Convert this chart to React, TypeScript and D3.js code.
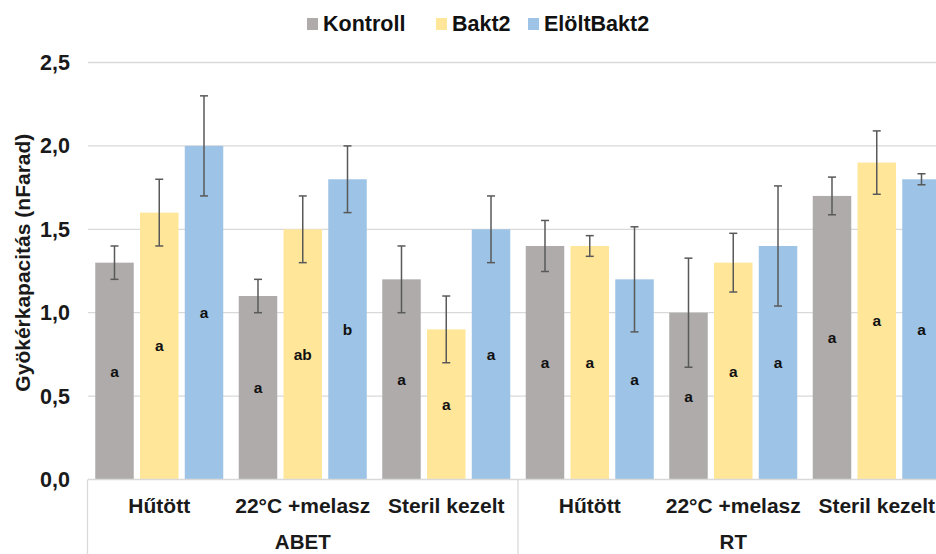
import React, { useEffect, useRef } from "react";
import * as d3 from "d3";

const categories = ["Hűtött", "22°C +melasz", "Steril kezelt", "Hűtött", "22°C +melasz", "Steril kezelt"];
const groups = ["ABET", "RT"];
const seriesNames = ["Kontroll", "Bakt2", "ElöltBakt2"];
const seriesColors = ["#AFABAB", "#FFE699", "#9DC3E6"];

const kontroll = [1.3, 1.1, 1.2, 1.4, 1.0, 1.7];
const bakt2 = [1.6, 1.5, 0.9, 1.4, 1.3, 1.9];
const eloltBakt2 = [2.0, 1.8, 1.5, 1.2, 1.4, 1.8];

const kontrollErr = [0.1, 0.1, 0.2, 0.153, 0.327, 0.113];
const bakt2Err = [0.2, 0.2, 0.2, 0.062, 0.176, 0.19];
const eloltBakt2Err = [0.3, 0.2, 0.2, 0.315, 0.36, 0.033];

const kontrollLetters = ["a", "a", "a", "a", "a", "a"];
const bakt2Letters = ["a", "ab", "a", "a", "a", "a"];
const eloltBakt2Letters = ["a", "b", "a", "a", "a", "a"];

const yTicks = [0, 0.5, 1.0, 1.5, 2.0, 2.5];
const yTitle = "Gyökérkapacitás (nFarad)";

const W = 936;
const H = 554;
const FONT = "'Liberation Sans', Arial, sans-serif";

export default function App() {
  const ref = useRef<SVGSVGElement>(null);

  useEffect(() => {
    document.body.style.margin = "0";
    const svg = d3.select(ref.current);
    svg.selectAll("*").remove();

    const values = [kontroll, bakt2, eloltBakt2];
    const errs = [kontrollErr, bakt2Err, eloltBakt2Err];
    const letters = [kontrollLetters, bakt2Letters, eloltBakt2Letters];

    const x0 = 87.5;
    const band = 143.5;
    const idx = categories.map((_, i) => i);
    const x = d3.scaleBand<number>().domain(idx).range([x0, x0 + band * categories.length]).padding(0);
    const xi = d3.scaleBand<number>().domain([0, 1, 2]).range([7.75, 135.75]).paddingInner(0.14);
    const y = d3.scaleLinear().domain([0, 2.5]).range([479.5, 62.5]);

    // gridlines
    svg.append("g").selectAll("line").data(yTicks.filter((t) => t > 0)).join("line")
      .attr("x1", 88).attr("x2", W)
      .attr("y1", (d) => y(d)).attr("y2", (d) => y(d))
      .attr("stroke", "#D9D9D9").attr("stroke-width", 1.3);

    // y tick labels
    svg.append("g").selectAll("text").data(yTicks).join("text")
      .attr("x", 70).attr("y", (d) => y(d))
      .attr("dy", "0.35em")
      .attr("text-anchor", "end")
      .attr("font-family", FONT).attr("font-weight", "bold").attr("font-size", 21.5)
      .attr("fill", "#1a1a1a")
      .text((d) => d3.format(".1f")(d).replace(".", ","));

    // y title
    svg.append("text")
      .attr("transform", `translate(30, ${y(1.3)}) rotate(-90)`)
      .attr("text-anchor", "middle")
      .attr("font-family", FONT).attr("font-weight", "bold").attr("font-size", 21)
      .attr("fill", "#1a1a1a")
      .text(yTitle);

    // bars
    seriesNames.forEach((_, s) => {
      const g = svg.append("g");
      g.selectAll("rect").data(idx).join("rect")
        .attr("x", (i) => (x(i) as number) + (xi(s) as number))
        .attr("width", xi.bandwidth())
        .attr("y", (i) => y(values[s][i]))
        .attr("height", (i) => y(0) - y(values[s][i]))
        .attr("fill", seriesColors[s]);
    });

    // error bars
    seriesNames.forEach((_, s) => {
      const g = svg.append("g").attr("stroke", "#595959").attr("stroke-width", 1.5);
      idx.forEach((i) => {
        const cx = (x(i) as number) + (xi(s) as number) + xi.bandwidth() / 2;
        const top = y(values[s][i] + errs[s][i]);
        const bot = y(values[s][i] - errs[s][i]);
        g.append("line").attr("x1", cx).attr("x2", cx).attr("y1", top).attr("y2", bot);
        g.append("line").attr("x1", cx - 4).attr("x2", cx + 4).attr("y1", top).attr("y2", top);
        g.append("line").attr("x1", cx - 4).attr("x2", cx + 4).attr("y1", bot).attr("y2", bot);
      });
    });

    // letters
    seriesNames.forEach((_, s) => {
      svg.append("g").selectAll("text").data(idx).join("text")
        .attr("x", (i) => (x(i) as number) + (xi(s) as number) + xi.bandwidth() / 2)
        .attr("y", (i) => y(values[s][i] / 2))
        .attr("dy", "0.35em")
        .attr("text-anchor", "middle")
        .attr("font-family", FONT).attr("font-weight", "bold").attr("font-size", 15.5)
        .attr("fill", "#111")
        .text((i) => letters[s][i]);
    });

    // x axis box
    const axisCol = "#D9D9D9";
    svg.append("line").attr("x1", 88).attr("x2", W).attr("y1", y(0)).attr("y2", y(0))
      .attr("stroke", axisCol).attr("stroke-width", 1.3);
    const groupSize = categories.length / groups.length;
    groups.forEach((_, gi) => {
      const gx = x0 + gi * groupSize * band;
      svg.append("line").attr("x1", gx).attr("x2", gx).attr("y1", y(0)).attr("y2", H)
        .attr("stroke", axisCol).attr("stroke-width", 1.3);
    });

    svg.append("g").selectAll("text").data(idx).join("text")
      .attr("x", (i) => (x(i) as number) + band / 2)
      .attr("y", 513)
      .attr("text-anchor", "middle")
      .attr("font-family", FONT).attr("font-weight", "bold").attr("font-size", 21)
      .attr("fill", "#1a1a1a")
      .text((i) => categories[i]);

    svg.append("g").selectAll("text").data(groups).join("text")
      .attr("x", (_, gi) => x0 + (gi + 0.5) * groupSize * band)
      .attr("y", 549)
      .attr("text-anchor", "middle")
      .attr("font-family", FONT).attr("font-weight", "bold").attr("font-size", 20.5)
      .attr("fill", "#1a1a1a")
      .text((d) => d);

    // legend
    const leg = svg.append("g");
    const itemX = [307, 436, 528];
    seriesNames.forEach((name, s) => {
      leg.append("rect").attr("x", itemX[s]).attr("y", 18).attr("width", 11).attr("height", 12)
        .attr("fill", seriesColors[s]);
      leg.append("text").attr("x", itemX[s] + 16).attr("y", 31)
        .attr("font-family", FONT).attr("font-weight", "bold").attr("font-size", 21.5)
        .attr("fill", "#111")
        .text(name);
    });
  }, []);

  return <svg ref={ref} width={W} height={H} style={{ display: "block", background: "#fff" }} />;
}
